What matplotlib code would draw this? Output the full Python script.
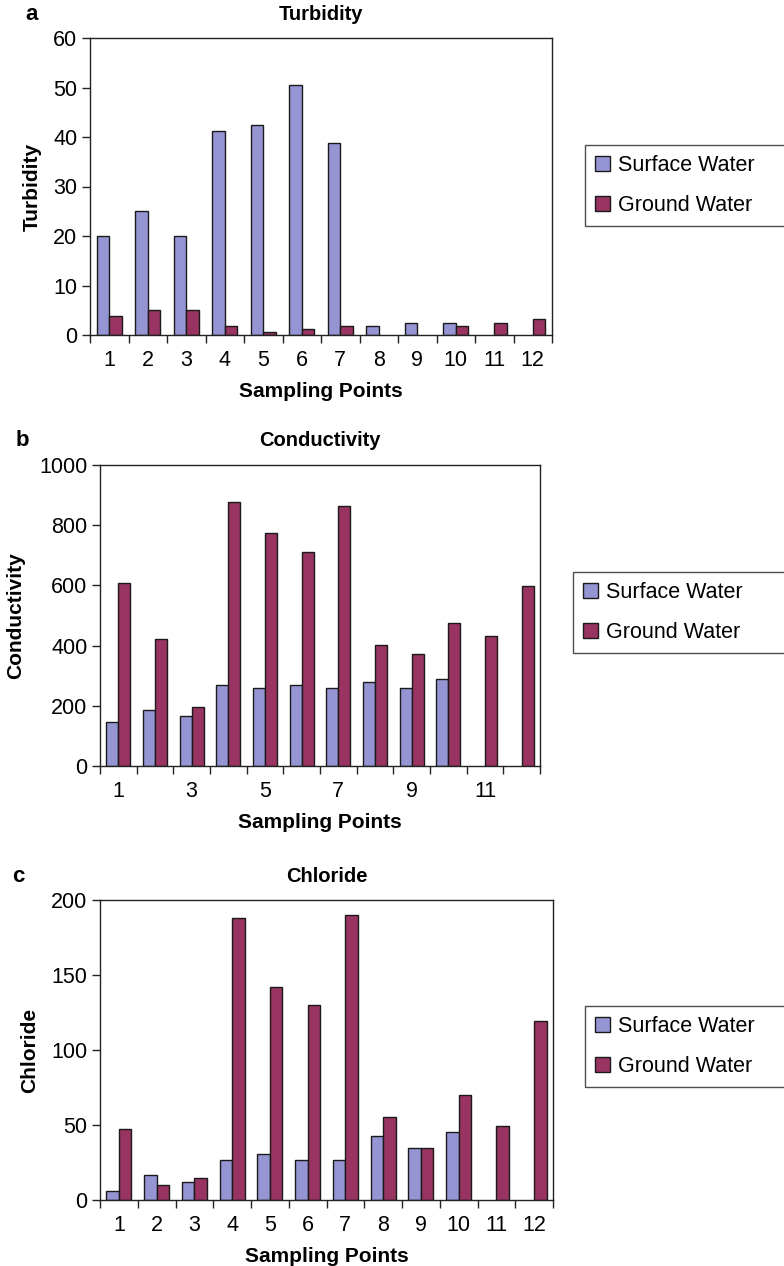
import matplotlib
matplotlib.use("Agg")
import matplotlib.pyplot as plt
import numpy as np
from matplotlib.patches import Patch

plt.rcParams['font.family'] = ['Liberation Sans', 'DejaVu Sans']

points = list(range(1, 13))
series_names = ["Surface Water", "Ground Water"]

turb_surface = [20, 25, 20, 41.2, 42.5, 50.6, 38.8, 1.9, 2.5, 2.5, 0, 0]
turb_ground = [3.8, 5.0, 5.0, 1.9, 0.7, 1.2, 1.9, 0, 0, 1.9, 2.5, 3.2]

cond_surface = [145, 186, 165, 268, 259, 268, 259, 279, 259, 290, 0, 0]
cond_ground = [608, 422, 197, 876, 773, 711, 865, 401, 371, 475, 432, 598]

chl_surface = [6, 16.4, 12.2, 26.6, 30.8, 26.6, 26.6, 43, 35, 45.2, 0, 0]
chl_ground = [47.4, 10.2, 14.4, 187.8, 142.2, 130, 189.8, 55.6, 35, 70, 49.4, 119.6]

c_surf = '#9595D3'
c_grnd = '#993361'

W, H = 784, 1266
fig = plt.figure(figsize=(W / 100, H / 100), dpi=100)

def fx(px):
    return px / W

def fy(py):
    return 1 - py / H

panels = [
    dict(letter='a', title='Turbidity', ylabel='Turbidity', s=turb_surface, g=turb_ground,
         box=(90, 38, 552, 335), ymax=60, ystep=10, labels_every=1,
         letter_xy=(32, 14), ylab_x=32, leg=(585, 145, 226)),
    dict(letter='b', title='Conductivity', ylabel='Conductivity', s=cond_surface, g=cond_ground,
         box=(100, 465, 540, 766), ymax=1000, ystep=200, labels_every=2,
         letter_xy=(22, 441), ylab_x=16, leg=(573, 572, 652)),
    dict(letter='c', title='Chloride', ylabel='Chloride', s=chl_surface, g=chl_ground,
         box=(100, 900, 553, 1200), ymax=200, ystep=50, labels_every=1,
         letter_xy=(18, 877), ylab_x=30, leg=(585, 1006, 1086)),
]

def nz(vals):
    return [v if v > 0 else np.nan for v in vals]

bw = 0.33
fs = 15.5
for p in panels:
    x0, y0, x1, y1 = p['box']
    ax = fig.add_axes([fx(x0), fy(y1), fx(x1) - fx(x0), fy(y0) - fy(y1)])
    x = np.arange(len(points))
    ax.bar(x - bw / 2, nz(p['s']), width=bw, color=c_surf, edgecolor='#1a1a1a', linewidth=1.0)
    ax.bar(x + bw / 2, nz(p['g']), width=bw, color=c_grnd, edgecolor='#1a1a1a', linewidth=1.0)
    ax.set_xlim(-0.5, len(points) - 0.5)
    ax.set_ylim(0, p['ymax'])
    ax.set_yticks(np.arange(0, p['ymax'] + 1, p['ystep']))
    ax.set_xticks(x[::p['labels_every']])
    ax.set_xticklabels([str(v) for v in points][::p['labels_every']])
    ax.set_xticks(np.arange(-0.5, len(points) + 0.5, 1), minor=True)
    ax.tick_params(axis='x', which='major', length=0, pad=11, labelsize=fs)
    ax.tick_params(axis='x', which='minor', length=6, width=1.0, direction='out', color='#222222')
    ax.tick_params(axis='y', which='major', length=6, width=1.0, direction='out', pad=3,
                   labelsize=fs, color='#222222')
    for sp in ax.spines.values():
        sp.set_linewidth(1.0)
        sp.set_color('#222222')
    ax.set_xlabel('Sampling Points', fontsize=fs - 0.5, fontweight='bold', labelpad=8)
    fig.text(fx(p['ylab_x']), fy((y0 + y1) / 2), p['ylabel'], rotation=90, fontsize=fs - 0.5,
             fontweight='bold', ha='center', va='center')
    fig.text(fx((x0 + x1) / 2), fy(p['letter_xy'][1]), p['title'], fontsize=fs - 1,
             fontweight='bold', ha='center', va='center')
    fig.text(fx(p['letter_xy'][0]), fy(p['letter_xy'][1]), p['letter'], fontsize=fs + 0.5,
             fontweight='bold', ha='center', va='center')
    lx, ltop, lbot = p['leg']
    handles = [Patch(facecolor=c_surf, edgecolor='#1a1a1a', linewidth=1.0),
               Patch(facecolor=c_grnd, edgecolor='#1a1a1a', linewidth=1.0)]
    leg = fig.legend(handles, series_names, loc='upper left',
                     bbox_to_anchor=(fx(lx), fy(lbot), fx(W + 30) - fx(lx), fy(ltop) - fy(lbot)),
                     mode='expand', borderaxespad=0, fontsize=fs, frameon=True, fancybox=False,
                     handlelength=0.7, handleheight=0.7, handletextpad=0.4, labelspacing=0.9,
                     borderpad=0.45)
    leg.get_frame().set_edgecolor('#222222')
    leg.get_frame().set_linewidth(1.0)

fig.savefig('out.png', dpi=100)
